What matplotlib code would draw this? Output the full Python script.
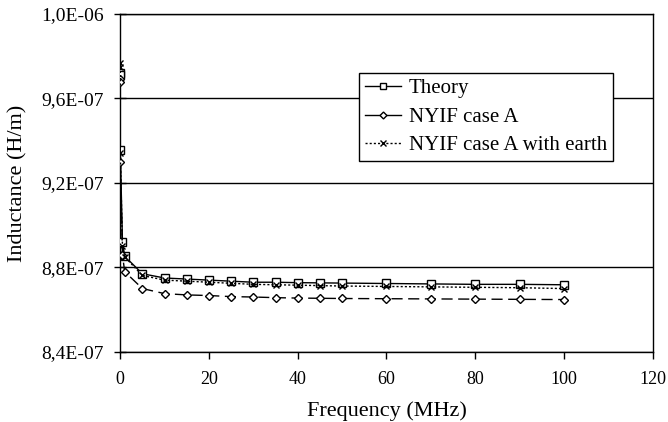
import numpy as np
import matplotlib
matplotlib.use("Agg")
import matplotlib.pyplot as plt
from matplotlib.ticker import FuncFormatter, MultipleLocator
from matplotlib.lines import Line2D

# frequencies in MHz
freq = [0.00005, 0.001, 0.01, 0.5, 1, 5, 10, 15, 20, 25, 30, 35, 40, 45, 50,
        60, 70, 80, 90, 100]

# inductance in 1e-7 H/m
theory = [9.72, 9.71, 9.356, 8.92, 8.853, 8.77, 8.75, 8.745, 8.74, 8.735,
          8.73, 8.73, 8.728, 8.727, 8.726, 8.724, 8.722, 8.72, 8.72, 8.718]
nyif_a = [9.69, 9.68, 9.30, 8.86, 8.78, 8.70, 8.676, 8.670, 8.667, 8.662,
          8.66, 8.657, 8.655, 8.654, 8.653, 8.652, 8.651, 8.65, 8.649, 8.648]
nyif_earth = [9.77, 9.75, 9.34, 8.90, 8.85, 8.762, 8.74, 8.735, 8.73, 8.725,
              8.72, 8.718, 8.716, 8.714, 8.712, 8.71, 8.708, 8.706, 8.704, 8.70]

scale = 1e-7
plt.rcParams['font.family'] = ['Liberation Serif', 'DejaVu Serif']

fig = plt.figure(figsize=(6.68, 4.22), dpi=100)
ax = fig.add_axes([0.180, 0.166, 0.797, 0.801])

f = np.array(freq)
ax.plot(f, np.array(theory) * scale, color='black', lw=1.0, ls='-',
        marker='s', ms=5.5, mfc='white', mec='black', mew=1.0, zorder=3)
ax.plot(f, np.array(nyif_a) * scale, color='black', lw=1.0, ls=(0, (8, 4)),
        marker='D', ms=4.5, mfc='white', mec='black', mew=1.0, zorder=3)
ax.plot(f, np.array(nyif_earth) * scale, color='black', lw=1.0, ls=(0, (1.5, 1.5)),
        marker='x', ms=5, mec='black', mew=1.0, zorder=3)

ax.set_xlim(0, 120)
ax.set_ylim(8.4e-7, 1.0e-6)
ax.xaxis.set_major_locator(MultipleLocator(20))
ax.yaxis.set_major_locator(MultipleLocator(4e-8))
ax.yaxis.set_major_formatter(FuncFormatter(lambda v, p: f"{v:.1E}".replace('.', ',')))
ax.grid(axis='y', color='black', lw=1.0)
ax.set_axisbelow(True)

for s in ax.spines.values():
    s.set_linewidth(1.0)
ax.tick_params(axis='y', direction='inout', length=8, width=1.0, labelsize=14, pad=8)
ax.tick_params(axis='x', direction='out', length=5, width=1.0, labelsize=13, pad=9)

ax.set_xlabel('Frequency (MHz)', fontsize=16, labelpad=9)
ax.set_ylabel('Inductance (H/m)', fontsize=16, labelpad=10)

handles = [
    Line2D([], [], color='black', lw=1.0, marker='s', ms=4, mfc='white', mec='black'),
    Line2D([], [], color='black', lw=1.0, marker='D', ms=3.5, mfc='white', mec='black'),
    Line2D([], [], color='black', lw=1.0, ls=(0, (1.5, 1.5)), marker='x', ms=4, mec='black'),
]
leg = ax.legend(handles, ['Theory', 'NYIF case A', 'NYIF case A with earth'],
                loc='upper left', bbox_to_anchor=(0.449, 0.825), fontsize=15,
                frameon=True, fancybox=False, edgecolor='black', framealpha=1,
                handlelength=1.7, handletextpad=0.4, borderpad=0.28, labelspacing=0.42,
                borderaxespad=0)
leg.get_frame().set_linewidth(1.0)

fig.savefig('out.png', dpi=100)
